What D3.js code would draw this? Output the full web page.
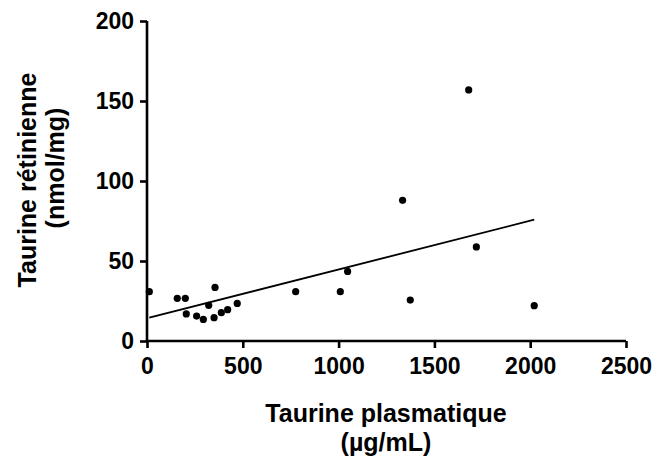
<!DOCTYPE html>
<html lang="fr">
<head>
<meta charset="UTF-8">
<title>Taurine</title>
<style>
  body { margin: 0; background: #fff; }
  svg text { font-family: "Liberation Sans", Arial, sans-serif; font-weight: bold; fill: #000; }
</style>
</head>
<body>
<svg id="chart" width="653" height="459"></svg>
<script src="https://d3js.org/d3.v7.min.js"></script>
<script>
  // data
  const plasma = [12, 158, 200, 205, 259, 294, 322, 355, 350, 388, 421, 471, 776, 1009, 1047, 1334, 1374, 1679, 1719, 2021];
  const retina = [30.8, 26.7, 26.7, 16.9, 15.6, 13.5, 22.3, 33.5, 14.6, 17.7, 19.6, 23.5, 30.8, 30.8, 43.5, 87.9, 25.6, 156.9, 58.8, 22.1];
  const fitX = [12, 2021];
  const fitY = [14.6, 75.8];
  const xTicks = [0, 500, 1000, 1500, 2000, 2500];
  const yTicks = [0, 50, 100, 150, 200];

  const svg = d3.select("#chart");
  const x = d3.scaleLinear().domain([0, 2500]).range([147, 626]);
  const y = d3.scaleLinear().domain([0, 200]).range([341, 21]);

  // axes
  const xAxis = svg.append("g")
    .attr("transform", "translate(0,341)")
    .call(d3.axisBottom(x).tickValues(xTicks).tickFormat(d3.format("d")).tickSize(7).tickPadding(10));
  const yAxis = svg.append("g")
    .attr("transform", "translate(147,0)")
    .call(d3.axisLeft(y).tickValues(yTicks).tickSize(7).tickPadding(6));

  [xAxis, yAxis].forEach(a => {
    a.select(".domain").attr("stroke", "#000").attr("stroke-width", 2.6)
      .attr("d", a === xAxis ? "M147,0H626" : "M0,21V341");
    a.selectAll(".tick line").attr("stroke", "#000").attr("stroke-width", 2.6);
    a.selectAll(".tick text").style("font-size", "23px").attr("fill", "#000");
  });

  // regression line
  const line = d3.line().x(d => x(d[0])).y(d => y(d[1]));
  svg.append("path")
    .datum(fitX.map((v, i) => [v, fitY[i]]))
    .attr("d", line)
    .attr("fill", "none")
    .attr("stroke", "#000")
    .attr("stroke-width", 1.8);

  // points
  svg.selectAll("circle.pt")
    .data(plasma.map((v, i) => [v, retina[i]]))
    .join("circle")
    .attr("class", "pt")
    .attr("cx", d => x(d[0]))
    .attr("cy", d => y(d[1]))
    .attr("r", 3.6)
    .attr("fill", "#000");

  // axis titles
  svg.append("text").attr("x", 386).attr("y", 422).attr("text-anchor", "middle")
    .style("font-size", "25px").text("Taurine plasmatique");
  svg.append("text").attr("x", 386).attr("y", 451).attr("text-anchor", "middle")
    .style("font-size", "25px").text("(µg/mL)");
  svg.append("text").attr("transform", "translate(36,180) rotate(-90)").attr("text-anchor", "middle")
    .style("font-size", "25px").text("Taurine rétinienne");
  svg.append("text").attr("transform", "translate(64,168) rotate(-90)").attr("text-anchor", "middle")
    .style("font-size", "25px").text("(nmol/mg)");
</script>
</body>
</html>
